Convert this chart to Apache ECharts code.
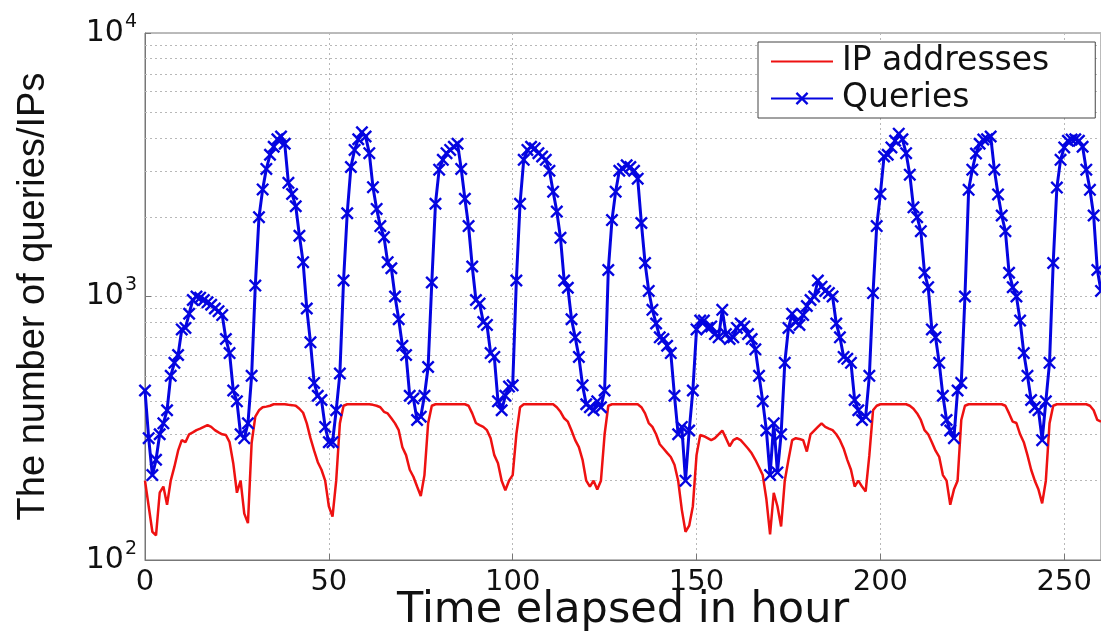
<!DOCTYPE html>
<html>
<head>
<meta charset="utf-8">
<script src="https://cdn.jsdelivr.net/npm/echarts@6/dist/echarts.min.js"></script>
<style>
html,body{margin:0;padding:0;background:#fff;}
#chart{width:1101px;height:634px;}
</style>
</head>
<body>
<div id="chart"></div>
<script>
// Hourly values, hour 0 .. 260
const ipAddresses = [
  200,160,128,124,180,190,162,200,226,260,
  285,280,300,305,311,315,320,325,320,311,
  305,300,298,280,233,180,200,150,138,278,
  350,370,380,382,385,390,390,390,390,388,
  387,385,375,362,330,290,260,235,220,200,
  160,146,200,330,385,390,390,390,390,390,
  390,390,388,385,380,365,360,345,330,311,
  268,250,220,207,190,175,210,330,385,390,
  390,390,390,390,390,390,390,390,385,360,
  331,325,320,311,290,250,233,200,184,200,
  210,300,380,390,390,390,390,390,390,390,
  390,390,380,365,345,335,310,285,268,240,
  200,190,200,185,200,300,385,390,390,390,
  390,390,390,390,390,380,360,331,320,300,
  275,265,255,246,230,200,155,128,135,160,
  250,298,295,290,285,290,300,310,290,270,
  285,290,285,275,265,254,240,225,210,170,
  125,180,160,134,200,240,285,290,288,285,
  258,300,310,320,330,320,315,311,300,285,
  265,240,220,190,200,190,182,250,370,385,
  390,390,390,390,390,390,390,390,385,375,
  360,340,311,300,280,260,246,210,200,162,
  185,200,340,385,390,390,390,390,390,390,
  390,390,390,390,385,360,335,331,300,280,
  250,220,200,185,164,200,330,385,390,390,
  390,390,390,390,390,390,390,385,370,340,
  335
];
const queries = [
  440,290,210,240,300,330,370,500,560,600,
  750,760,860,970,1000,990,970,950,930,900,
  880,850,690,610,440,400,300,290,330,500,
  1100,2000,2550,3050,3450,3700,3950,4050,3800,2700,
  2450,2200,1700,1350,900,670,470,420,405,320,
  280,280,370,510,1150,2070,3100,3600,3950,4200,
  4050,3500,2600,2150,1850,1680,1350,1280,1000,820,
  650,600,420,410,340,350,420,540,1130,2250,
  3030,3300,3500,3600,3700,3800,3050,2350,1850,1300,
  970,940,800,780,610,590,400,370,420,455,
  460,1150,2250,3300,3600,3700,3650,3500,3400,3300,
  3000,2500,2100,1670,1150,1080,820,700,590,460,
  390,380,370,400,380,440,1260,1950,2500,3000,
  3050,3150,3100,3000,2800,1900,1340,1050,890,790,
  700,690,650,610,420,300,320,200,310,440,
  750,810,810,760,770,720,700,890,720,690,
  700,760,790,770,720,690,630,500,400,310,
  210,330,215,300,560,760,860,800,780,850,
  920,970,1000,1150,1090,1050,1030,1000,790,700,
  590,580,560,405,370,340,350,500,1030,1850,
  2450,3400,3450,3680,3900,4150,3950,3500,2900,2180,
  2000,1770,1230,1085,750,700,560,420,340,310,
  290,440,470,1000,2540,3030,3490,3800,3940,3950,
  4050,3030,2440,2030,1770,1230,1085,1000,810,610,
  500,405,380,370,285,400,560,1340,2590,3300,
  3680,3900,3940,3950,3900,3700,3030,2540,2030,1260,
  1050
];
const seriesNames = ['IP addresses', 'Queries'];
const xTicks = [0, 50, 100, 150, 200, 250];
const minorGridValues = [200,300,400,500,600,700,800,900,2000,3000,4000,5000,6000,7000,8000,9000];

const hours = ipAddresses.map((_, i) => i);
const ipData = hours.map((h, i) => [h, ipAddresses[i]]);
const qData = hours.map((h, i) => [h, queries[i]]);

const FONT = 'Liberation Sans, Arial, sans-serif';
const WIDE = 'DejaVu Sans, Liberation Sans, sans-serif';
const xMark = 'path://M0,1.3L1.3,0L5,3.7L8.7,0L10,1.3L6.3,5L10,8.7L8.7,10L5,6.3L1.3,10L0,8.7L3.7,5Z';
const gridStyle = {color: '#b8b8b8', type: [2, 3], width: 1};
const BLUE = '#0505e0';
const RED = '#ee1111';

const chart = echarts.init(document.getElementById('chart'), null, {renderer: 'canvas'});
chart.setOption({
  animation: false,
  backgroundColor: '#fff',
  grid: {left: 145, right: 0, top: 33, bottom: 74, show: true, borderColor: '#777', borderWidth: 1,
    outerBoundsMode: 'none', containLabel: false},
  legend: {
    orient: 'vertical', left: 758, top: 42,
    backgroundColor: '#fff', borderColor: '#444', borderWidth: 1,
    padding: [3, 46, 3, 12], itemGap: 4,
    itemWidth: 62, itemHeight: 16,
    textStyle: {fontFamily: WIDE, fontSize: 33, color: '#111', padding: [0, 0, 0, 4]},
    data: [
      {name: seriesNames[0], itemStyle: {opacity: 0, color: 'rgba(0,0,0,0)', borderWidth: 0}},
      {name: seriesNames[1]}
    ]
  },
  xAxis: {
    type: 'value', min: 0, max: 260, interval: 50,
    name: 'Time elapsed in hour', nameLocation: 'middle', nameGap: 29, nameMoveOverlap: false,
    nameTextStyle: {fontFamily: WIDE, fontSize: 43, color: '#111'},
    axisLine: {show: true, lineStyle: {color: '#777'}},
    axisTick: {show: true, inside: true, length: 6, lineStyle: {color: '#777'}},
    axisLabel: {fontFamily: WIDE, fontSize: 29, color: '#111', margin: 8,
      formatter: v => xTicks.includes(v) ? String(v) : ''},
    splitLine: {show: true, lineStyle: gridStyle}
  },
  yAxis: {
    type: 'log', logBase: 10, min: 100, max: 10000,
    name: 'The number of queries/IPs', nameLocation: 'middle', nameGap: 92, nameRotate: 90,
    nameMoveOverlap: false,
    nameTextStyle: {fontFamily: FONT, fontSize: 38, color: '#111'},
    axisLine: {show: true, lineStyle: {color: '#777'}},
    axisTick: {show: true, inside: true, length: 6, lineStyle: {color: '#777'}},
    axisLabel: {
      margin: 8,
      formatter: v => '{b|10}{s|' + Math.round(Math.log10(v)) + '}',
      rich: {
        b: {fontFamily: WIDE, fontSize: 30, color: '#111'},
        s: {fontFamily: WIDE, fontSize: 19, color: '#111', padding: [0, 0, 22, 1]}
      }
    },
    splitLine: {show: true, lineStyle: gridStyle}
  },
  series: [
    {
      name: seriesNames[0], type: 'line', data: ipData,
      symbol: 'none', lineStyle: {color: RED, width: 2.5}, itemStyle: {color: RED},
      z: 3,
      markLine: {
        silent: true, symbol: 'none', label: {show: false},
        lineStyle: gridStyle, z: 1,
        data: minorGridValues.map(v => ({yAxis: v}))
      }
    },
    {
      name: seriesNames[1], type: 'line', data: qData,
      symbol: xMark, symbolSize: 13, showAllSymbol: true,
      lineStyle: {color: BLUE, width: 3}, itemStyle: {color: BLUE},
      z: 4
    }
  ]
});
</script>
</body>
</html>
